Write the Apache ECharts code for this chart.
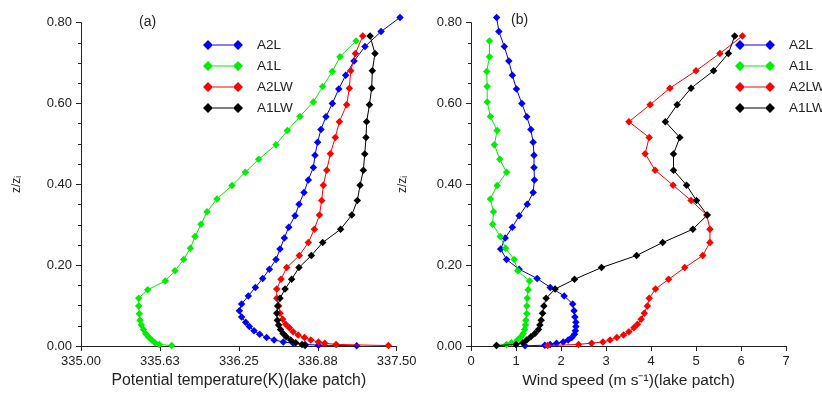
<!DOCTYPE html>
<html>
<head>
<meta charset="utf-8">
<script src="https://cdn.jsdelivr.net/npm/echarts@6/dist/echarts.min.js"></script>
<style>html,body{margin:0;padding:0;background:#fff;}#c{width:822px;height:394px;}</style>
</head>
<body>
<div id="c"></div>
<script>
// ---- data ----
const names = ['A2L', 'A1L', 'A2LW', 'A1LW'];
const colors = ['#0000ff', '#00ee00', '#ff0000', '#000000'];
const yTicks = [0, 0.2, 0.4, 0.6, 0.8];
const thetaTicks = [335.00, 335.625, 336.25, 336.875, 337.50];
const windTicks = [0, 1, 2, 3, 4, 5, 6, 7];

const zA2L = [0.813, 0.778, 0.741, 0.705, 0.670, 0.636, 0.600, 0.567, 0.536, 0.504, 0.472, 0.442, 0.411, 0.380, 0.351, 0.322, 0.294, 0.267, 0.240, 0.214, 0.190, 0.167, 0.145, 0.124, 0.104, 0.087, 0.072, 0.059, 0.048, 0.038, 0.029, 0.021, 0.015, 0.010, 0.007, 0.004, 0.002, 0.0005];
const thetaA2L = [337.526, 337.376, 337.249, 337.162, 337.096, 337.041, 336.99, 336.94, 336.90, 336.874, 336.853, 336.84, 336.80, 336.766, 336.727, 336.695, 336.645, 336.61, 336.576, 336.544, 336.492, 336.439, 336.381, 336.325, 336.272, 336.254, 336.272, 336.304, 336.333, 336.37, 336.415, 336.47, 336.529, 336.602, 336.68, 336.774, 336.88, 337.183];
const windA2L = [0.57, 0.62, 0.74, 0.84, 0.92, 1.01, 1.13, 1.24, 1.33, 1.38, 1.40, 1.40, 1.41, 1.38, 1.25, 1.07, 0.92, 0.76, 0.66, 0.79, 1.07, 1.47, 1.76, 2.07, 2.26, 2.29, 2.31, 2.33, 2.33, 2.32, 2.30, 2.24, 2.16, 2.05, 1.90, 1.76, 1.64, 1.20];

const zA1L = [0.755, 0.716, 0.679, 0.642, 0.604, 0.568, 0.533, 0.498, 0.462, 0.430, 0.397, 0.364, 0.332, 0.301, 0.271, 0.242, 0.214, 0.186, 0.161, 0.139, 0.118, 0.099, 0.080, 0.064, 0.052, 0.041, 0.031, 0.023, 0.015, 0.008, 0.004, 0.001];
const thetaA1L = [337.178, 337.051, 336.99, 336.914, 336.84, 336.734, 336.634, 336.544, 336.407, 336.301, 336.196, 336.077, 335.998, 335.950, 335.903, 335.866, 335.813, 335.744, 335.668, 335.528, 335.457, 335.457, 335.462, 335.467, 335.478, 335.494, 335.512, 335.533, 335.560, 335.586, 335.62, 335.718];
const windA1L = [0.41, 0.41, 0.35, 0.36, 0.36, 0.43, 0.58, 0.52, 0.64, 0.79, 0.58, 0.43, 0.50, 0.48, 0.65, 0.77, 0.96, 1.04, 1.30, 1.27, 1.25, 1.24, 1.24, 1.22, 1.21, 1.19, 1.16, 1.11, 1.03, 0.90, 0.79, 0.56];

const zA2LW = [0.767, 0.724, 0.681, 0.638, 0.597, 0.555, 0.516, 0.476, 0.435, 0.398, 0.360, 0.324, 0.289, 0.256, 0.224, 0.194, 0.165, 0.141, 0.118, 0.099, 0.081, 0.066, 0.054, 0.045, 0.035, 0.027, 0.021, 0.015, 0.010, 0.007, 0.004, 0.001];
const thetaA2LW = [337.231, 337.173, 337.136, 337.125, 337.104, 337.046, 337.014, 336.975, 336.946, 336.919, 336.906, 336.888, 336.848, 336.80, 336.729, 336.629, 336.584, 336.55, 336.55, 336.566, 336.576, 336.597, 336.621, 336.65, 336.68, 336.72, 336.77, 336.82, 336.88, 336.93, 337.02, 337.434];
const windA2LW = [6.03, 5.53, 5.0, 4.42, 3.98, 3.51, 3.96, 3.87, 4.09, 4.49, 4.89, 5.24, 5.31, 5.31, 5.15, 4.75, 4.39, 4.10, 3.96, 3.92, 3.85, 3.78, 3.70, 3.62, 3.51, 3.39, 3.24, 3.09, 2.93, 2.68, 2.39, 1.70];

const zA1LW = [0.767, 0.724, 0.681, 0.638, 0.597, 0.555, 0.516, 0.475, 0.435, 0.398, 0.360, 0.324, 0.289, 0.256, 0.224, 0.194, 0.165, 0.141, 0.118, 0.099, 0.081, 0.064, 0.052, 0.041, 0.031, 0.023, 0.015, 0.008, 0.004, 0.001];
const thetaA1LW = [337.289, 337.328, 337.307, 337.302, 337.284, 337.262, 337.257, 337.247, 337.236, 337.21, 337.188, 337.144, 337.056, 336.914, 336.824, 336.726, 336.668, 336.616, 336.576, 336.557, 336.55, 336.555, 336.565, 336.58, 336.60, 336.625, 336.66, 336.70, 336.75, 336.774];
const windA1LW = [5.86, 5.72, 5.39, 4.89, 4.58, 4.32, 4.64, 4.5, 4.5, 4.79, 5.01, 5.25, 4.93, 4.26, 3.68, 2.90, 2.30, 1.87, 1.67, 1.62, 1.59, 1.56, 1.53, 1.50, 1.42, 1.33, 1.24, 1.15, 1.00, 0.57];

const zs = [zA2L, zA1L, zA2LW, zA1LW];
const thetas = [thetaA2L, thetaA1L, thetaA2LW, thetaA1LW];
const winds = [windA2L, windA1L, windA2LW, windA1LW];

// ---- chart ----
const FONT = 'Liberation Sans, Arial, Helvetica, sans-serif';
const AX = '#222';
const legendIcon = 'path://M0,5 L5,0 L10,5 L5,10 Z M30,5 L35,0 L40,5 L35,10 Z M10,4.5 L30,4.5 L30,5.5 L10,5.5 Z';

function pairs(xs, ys) { return xs.map((x, i) => [x, ys[i]]); }

function yAxisCfg(gridIndex, gap) {
  return {
    gridIndex: gridIndex, type: 'value', min: yTicks[0], max: yTicks[yTicks.length - 1],
    interval: yTicks[1] - yTicks[0],
    name: 'z/zᵢ', nameLocation: 'middle', nameRotate: 90, nameGap: gap,
    nameTextStyle: { fontFamily: FONT, fontSize: 12, color: AX },
    axisLine: { show: true, lineStyle: { color: AX, width: 1 } },
    axisTick: { show: true, length: 5, lineStyle: { color: AX } },
    minorTick: { show: true, splitNumber: 4, length: 3, lineStyle: { color: AX } },
    splitLine: { show: false },
    axisLabel: { fontFamily: FONT, fontSize: 13, color: AX, margin: 9,
      formatter: v => v.toFixed(2) }
  };
}

const series = [];
names.forEach((n, i) => {
  const common = {
    name: n, type: 'line', symbol: 'diamond', symbolSize: 7.5, clip: false,
    lineStyle: { color: colors[i], width: 1 },
    itemStyle: { color: colors[i] },
    animation: false, z: 2 + i
  };
  series.push(Object.assign({}, common, { xAxisIndex: 0, yAxisIndex: 0, data: pairs(thetas[i], zs[i]) }));
  series.push(Object.assign({}, common, { xAxisIndex: 1, yAxisIndex: 1, data: pairs(winds[i], zs[i]) }));
});

const legendCommon = {
  orient: 'vertical', top: 38, itemGap: 7, itemWidth: 40, itemHeight: 10, padding: 0,
  icon: legendIcon, data: names, selectedMode: false,
  textStyle: { fontFamily: FONT, fontSize: 13.5, color: AX, padding: [0, 0, 0, 9] }
};

const option = {
  backgroundColor: '#fff',
  animation: false,
  title: [
    { text: '(a)', left: 134, top: 10, textStyle: { fontFamily: FONT, fontSize: 14, fontWeight: 'normal', color: AX } },
    { text: '(b)', left: 506, top: 8, textStyle: { fontFamily: FONT, fontSize: 14, fontWeight: 'normal', color: AX } }
  ],
  legend: [
    Object.assign({}, legendCommon, { left: 203 }),
    Object.assign({}, legendCommon, { left: 735 })
  ],
  grid: [
    { left: 81, top: 22.7, width: 315.7, height: 323.3 },
    { left: 471, top: 22.7, width: 315, height: 323.3 }
  ],
  xAxis: [
    {
      gridIndex: 0, type: 'value', min: thetaTicks[0], max: thetaTicks[thetaTicks.length - 1],
      interval: thetaTicks[1] - thetaTicks[0],
      name: 'Potential temperature(K)(lake patch)', nameLocation: 'middle', nameGap: 26,
      nameTextStyle: { fontFamily: FONT, fontSize: 15.8, color: AX },
      axisLine: { show: true, onZero: false, lineStyle: { color: AX, width: 1 } },
      axisTick: { show: true, length: 5, lineStyle: { color: AX } },
      splitLine: { show: false },
      axisLabel: { fontFamily: FONT, fontSize: 13, color: AX, margin: 9,
        formatter: v => v.toFixed(2) }
    },
    {
      gridIndex: 1, type: 'value', min: windTicks[0], max: windTicks[windTicks.length - 1],
      interval: windTicks[1] - windTicks[0],
      name: 'Wind speed (m s⁻¹)(lake patch)', nameLocation: 'middle', nameGap: 26,
      nameTextStyle: { fontFamily: FONT, fontSize: 15.5, color: AX },
      axisLine: { show: true, onZero: false, lineStyle: { color: AX, width: 1 } },
      axisTick: { show: true, length: 5, lineStyle: { color: AX } },
      splitLine: { show: false },
      axisLabel: { fontFamily: FONT, fontSize: 13, color: AX, margin: 9 }
    }
  ],
  yAxis: [yAxisCfg(0, 58), yAxisCfg(1, 62)],
  series: series
};

const chart = echarts.init(document.getElementById('c'), null, { renderer: 'canvas' });
chart.setOption(option);
</script>
</body>
</html>
